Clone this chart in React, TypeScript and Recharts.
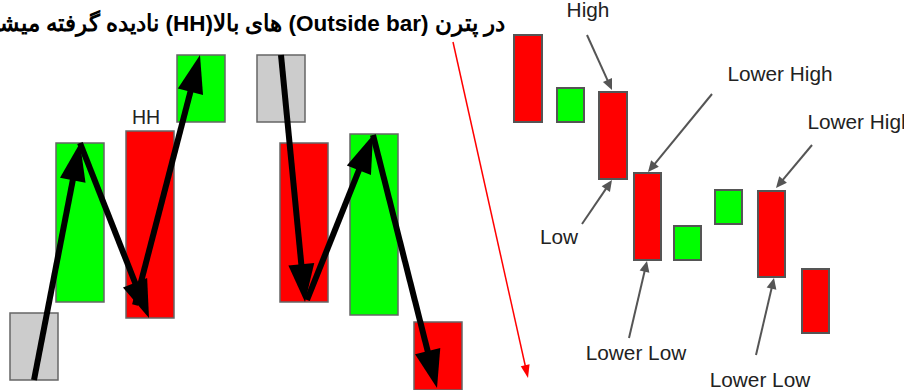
import React from 'react';
import { ComposedChart, XAxis, YAxis, ReferenceArea, ReferenceLine, ReferenceDot } from 'recharts';

const W = 904;
const H = 390;

// Candles: x range and vertical extent (y measured downward from the top)
const leftCandles = [
  { x1: 10, x2: 58, top: 313, bottom: 380, kind: 'neutral' },
  { x1: 56, x2: 104, top: 143, bottom: 302, kind: 'up' },
  { x1: 126, x2: 174, top: 131, bottom: 318, kind: 'down' },
  { x1: 177, x2: 225, top: 55, bottom: 122, kind: 'up' },
  { x1: 257, x2: 305, top: 55, bottom: 122, kind: 'neutral' },
  { x1: 280, x2: 328, top: 143, bottom: 302, kind: 'down' },
  { x1: 350, x2: 398, top: 134, bottom: 315, kind: 'up' },
  { x1: 414, x2: 462, top: 322, bottom: 392, kind: 'down' },
];

const rightCandles = [
  { x1: 514, x2: 542, top: 35, bottom: 122, kind: 'down' },
  { x1: 557, x2: 584, top: 88, bottom: 122, kind: 'up' },
  { x1: 599, x2: 627, top: 92, bottom: 179, kind: 'down' },
  { x1: 634, x2: 661, top: 173, bottom: 260, kind: 'down' },
  { x1: 674, x2: 701, top: 226, bottom: 260, kind: 'up' },
  { x1: 715, x2: 742, top: 190, bottom: 224, kind: 'up' },
  { x1: 758, x2: 785, top: 191, bottom: 277, kind: 'down' },
  { x1: 802, x2: 829, top: 269, bottom: 333, kind: 'down' },
];

// Swing arrows (from -> to)
const swingArrows = [
  { fx: 34, fy: 380, tx: 80, ty: 143 },
  { fx: 80, fy: 143, tx: 149, ty: 318 },
  { fx: 135, fy: 305, tx: 200, ty: 55 },
  { fx: 281, fy: 55, tx: 305, ty: 302 },
  { fx: 307, fy: 300, tx: 373, ty: 135 },
  { fx: 373, fy: 135, tx: 437, ty: 388 },
];

const pointerArrows = [
  { fx: 587, fy: 35, tx: 612, ty: 90 },
  { fx: 712, fy: 94, tx: 648, ty: 172 },
  { fx: 812, fy: 145, tx: 776, ty: 188 },
  { fx: 582, fy: 224, tx: 612, ty: 180 },
  { fx: 629, fy: 338, tx: 647, ty: 261 },
  { fx: 756, fy: 355, tx: 774, ty: 278 },
];

const trendArrow = [{ fx: 453, fy: 42, tx: 528, ty: 378 }];

const labels = [
  { x: 588, y: 10, text: 'High', size: 20.8 },
  { x: 780, y: 74, text: 'Lower High', size: 20.8 },
  { x: 860, y: 122, text: 'Lower High', size: 20.8 },
  { x: 559, y: 237, text: 'Low', size: 20.8 },
  { x: 636, y: 353, text: 'Lower Low', size: 20.8 },
  { x: 760, y: 380, text: 'Lower Low', size: 20.8 },
  { x: 146, y: 117, text: 'HH', size: 19.5 },
];

// Title in logical (reading) order; runs alternate Persian / Latin
const titleRuns = ['در پترن ', '(Outside bar)', ' های بالا', '(HH)', ' نادیده گرفته میشوند'];
const title = { x: 505, y: 23 };

const kindFill: Record<string, string> = { up: '#00ff00', down: '#ff0000', neutral: '#cccccc' };
const FONT = '"Liberation Sans", Arial, sans-serif';

const makeArrow = (color: string, width: number, headLen: number, headHalf: number) => (p: any) => {
  const { x1, y1, x2, y2 } = p;
  const dx = x2 - x1;
  const dy = y2 - y1;
  const len = Math.hypot(dx, dy) || 1;
  const ux = dx / len;
  const uy = dy / len;
  const bx = x2 - ux * headLen;
  const by = y2 - uy * headLen;
  const px = -uy;
  const py = ux;
  return (
    <g>
      <line x1={x1} y1={y1} x2={bx + ux * 2} y2={by + uy * 2} stroke={color} strokeWidth={width} />
      <polygon
        points={`${x2},${y2} ${bx + px * headHalf},${by + py * headHalf} ${bx - px * headHalf},${by - py * headHalf}`}
        fill={color}
      />
    </g>
  );
};

const blackArrow = makeArrow('#000000', 6, 38, 13);
const grayArrow = makeArrow('#555555', 2, 11, 5);
const redArrow = makeArrow('#ff0000', 1.5, 13, 4.5);

export default function App() {
  return (
    <div style={{ position: 'absolute', left: 0, top: 0, width: W, height: H, background: '#ffffff', overflow: 'hidden' }}>
      <ComposedChart width={W} height={H} margin={{ top: 0, right: 0, bottom: 0, left: 0 }} data={[]}>
        <XAxis type="number" dataKey="x" domain={[0, W]} allowDataOverflow hide />
        <YAxis type="number" dataKey="y" domain={[0, H]} allowDataOverflow reversed hide />
        {leftCandles.map((c, i) => (
          <ReferenceArea
            key={`l${i}`}
            x1={c.x1}
            x2={c.x2}
            y1={c.top}
            y2={Math.min(c.bottom, H)}
            fill={kindFill[c.kind]}
            fillOpacity={1}
            stroke="#666666"
            strokeWidth={1.5}
            ifOverflow="visible"
          />
        ))}
        {rightCandles.map((c, i) => (
          <ReferenceArea
            key={`r${i}`}
            x1={c.x1}
            x2={c.x2}
            y1={c.top}
            y2={c.bottom}
            fill={kindFill[c.kind]}
            fillOpacity={1}
            stroke="#555555"
            strokeWidth={2}
            ifOverflow="visible"
          />
        ))}
        {swingArrows.map((a, i) => (
          <ReferenceLine
            key={`s${i}`}
            segment={[{ x: a.fx, y: a.fy }, { x: a.tx, y: a.ty }]}
            shape={blackArrow}
            ifOverflow="visible"
          />
        ))}
        {pointerArrows.map((a, i) => (
          <ReferenceLine
            key={`p${i}`}
            segment={[{ x: a.fx, y: a.fy }, { x: a.tx, y: a.ty }]}
            shape={grayArrow}
            ifOverflow="visible"
          />
        ))}
        {trendArrow.map((a, i) => (
          <ReferenceLine
            key={`t${i}`}
            segment={[{ x: a.fx, y: a.fy }, { x: a.tx, y: a.ty }]}
            shape={redArrow}
            ifOverflow="visible"
          />
        ))}
        {labels.map((l, i) => (
          <ReferenceDot
            key={`lb${i}`}
            x={l.x}
            y={l.y}
            r={0}
            ifOverflow="visible"
            shape={(p: any) => (
              <text
                x={p.cx}
                y={p.cy}
                dy="0.35em"
                textAnchor="middle"
                fontFamily={FONT}
                fontSize={l.size}
                fill="#222222"
              >
                {l.text}
              </text>
            )}
          />
        ))}
        <ReferenceDot
          x={title.x}
          y={title.y}
          r={0}
          ifOverflow="visible"
          shape={(p: any) => (
            <text
              x={p.cx}
              y={p.cy}
              dy="0.35em"
              direction="rtl"
              textAnchor="start"
              fontFamily={FONT}
              fontWeight="bold"
              fontSize={22.5}
              fill="#000000"
            >
              {titleRuns.map((r, i) => (
                <tspan key={i}>{r}</tspan>
              ))}
            </text>
          )}
        />
      </ComposedChart>
    </div>
  );
}
